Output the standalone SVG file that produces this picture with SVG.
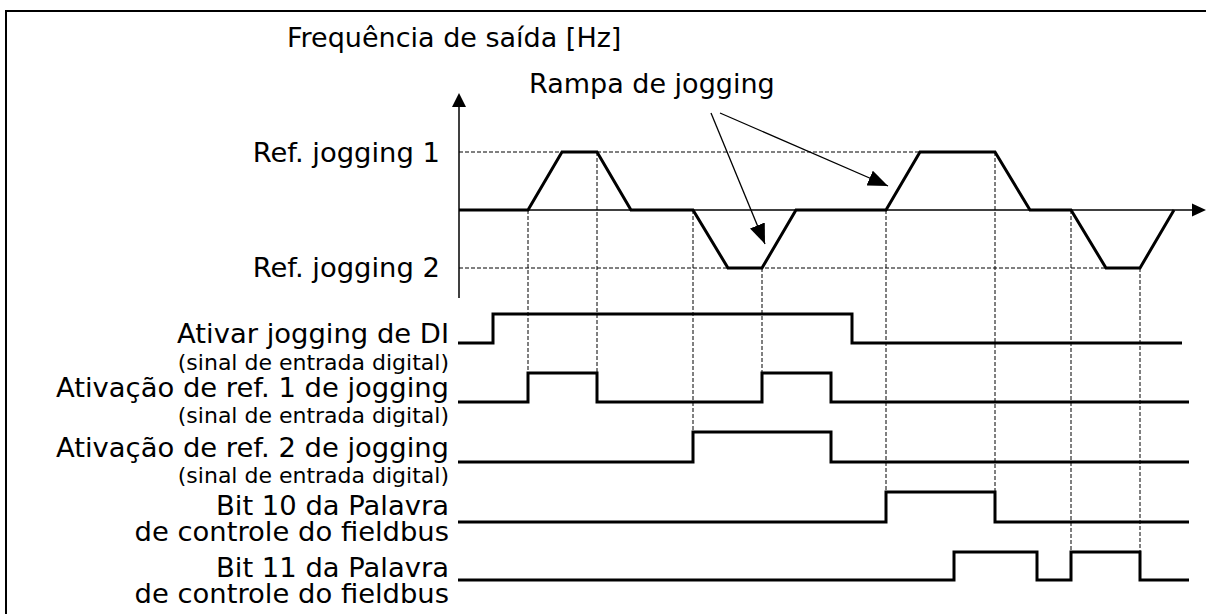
<svg xmlns="http://www.w3.org/2000/svg" width="1206" height="614" viewBox="0 0 1206 614">
<style>
text{font-family:"DejaVu Sans","Verdana",sans-serif;fill:#000}
.big{font-size:27.4px}
.title{font-size:27px}
.small{font-size:22px}
.end{text-anchor:end}
.dash{stroke:#000;stroke-width:1;stroke-dasharray:4 2;fill:none}
.thin{stroke:#000;stroke-width:1.5;fill:none}
.sig{stroke:#000;stroke-width:3;fill:none;stroke-linejoin:miter}
.ann{stroke:#000;stroke-width:1.3;fill:none}
</style>
<defs>
<marker id="ah" markerUnits="userSpaceOnUse" markerWidth="22" markerHeight="16" refX="20" refY="8" orient="auto">
<path d="M0,0 L20,8 L0,16 z" fill="#000"/>
</marker>
</defs>
<rect width="1206" height="614" fill="#fff"/>
<path d="M6,614 V11 H1206" fill="none" stroke="#000" stroke-width="2"/>

<g id="guides">
<path class="dash" d="M459,152 H920 M459,268 H1106"/>
<path class="dash" d="M528,210 V373 M597,152 V373 M693,210 V432 M762,268 V373 M886,210 V492 M995,152 V492 M1071,210 V552 M1140,268 V552"/>
</g>

<g id="axes">
<line class="thin" x1="459" y1="298" x2="459" y2="105"/>
<polygon points="459,93 452,107 466,107" fill="#000"/>
<line class="thin" x1="459" y1="210" x2="1193" y2="210"/>
<polygon points="1206,210 1192,203.5 1192,216.5" fill="#000"/>
</g>

<g id="freq-trace">
<path class="sig" d="M459,210 H528 L562,152 H597 L631,210 H693 L728,268 H762 L796,210 H886 L920,152 H995 L1030,210 H1071 L1106,268 H1140 L1174,210"/>
</g>

<g id="labels">
<text class="title" x="287" y="47">Frequência de saída [Hz]</text>
<text class="title" x="529" y="93">Rampa de jogging</text>
<text class="big end" x="440" y="162">Ref. jogging 1</text>
<text class="big end" x="440" y="277">Ref. jogging 2</text>
</g>

<g id="connectors">
<line class="ann" x1="711" y1="113" x2="765" y2="244" marker-end="url(#ah)"/>
<line class="ann" x1="720" y1="113" x2="888" y2="186" marker-end="url(#ah)"/>
</g>

<g id="sig-ativar">
<text class="big end" x="449" y="343">Ativar jogging de DI</text>
<text class="small end" x="449" y="370">(sinal de entrada digital)</text>
<path class="sig" d="M458,343 H493 V314 H852 V343 H1182"/>
</g>
<g id="sig-ref1">
<text class="big end" x="449" y="397">Ativação de ref. 1 de jogging</text>
<text class="small end" x="449" y="423">(sinal de entrada digital)</text>
<path class="sig" d="M458,402 H528 V373 H597 V402 H762 V373 H831 V402 H1189"/>
</g>
<g id="sig-ref2">
<text class="big end" x="449" y="457">Ativação de ref. 2 de jogging</text>
<text class="small end" x="449" y="483">(sinal de entrada digital)</text>
<path class="sig" d="M458,462 H693 V432 H831 V462 H1189"/>
</g>
<g id="sig-bit10">
<text class="big end" x="449" y="515">Bit 10 da Palavra</text>
<text class="big end" x="449" y="541">de controle do fieldbus</text>
<path class="sig" d="M458,522 H886 V492 H995 V522 H1189"/>
</g>
<g id="sig-bit11">
<text class="big end" x="449" y="577">Bit 11 da Palavra</text>
<text class="big end" x="449" y="603">de controle do fieldbus</text>
<path class="sig" d="M458,580 H954 V552 H1037 V580 H1071 V552 H1140 V580 H1189"/>
</g>
</svg>
